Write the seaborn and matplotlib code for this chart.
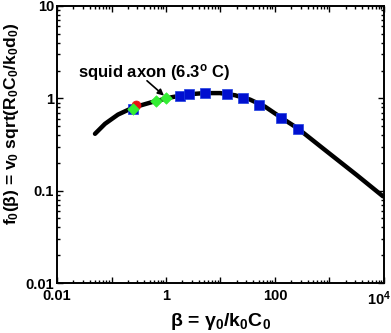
import matplotlib
matplotlib.use("Agg")
import matplotlib.pyplot as plt
import matplotlib.ticker as mticker
import matplotlib.transforms as mtransforms
import seaborn as sns
import numpy as np

# ---- data ----
beta_curve = [0.0498, 0.076, 0.1315, 0.248, 0.553, 1.29, 2.76, 5.2, 9.8,
              18.5, 34.8, 65.6, 134, 264, 760, 3200, 9600]
f_curve = [0.413, 0.530, 0.667, 0.794, 0.910, 1.03, 1.11, 1.14, 1.14,
           1.08, 0.97, 0.813, 0.611, 0.471, 0.287, 0.147, 0.0869]

beta_blue = [0.251, 1.81, 2.64, 5.2, 13.0, 26.2, 51.5, 131, 268]
f_blue = [0.769, 1.07, 1.115, 1.15, 1.115, 1.01, 0.855, 0.609, 0.468]

beta_red = [0.278]
f_red = [0.855]

beta_green = [0.251, 0.656, 0.986]
f_green = [0.769, 0.945, 1.01]

x_ticks = [0.01, 0.1, 1, 10, 100, 1000, 10000]
x_ticklabels = ["0.01", "", "1", "", "100", "", "$\\mathbf{10^4}$"]
y_ticks = [0.01, 0.1, 1, 10]
y_ticklabels = ["0.01", "0.1", "1", "10"]

annot_text = "squid axon (6.3$^{\\mathbf{o}}$ C)"
xlabel = "β = γ$_\\mathbf{0}$/k$_\\mathbf{0}$C$_\\mathbf{0}$"
ylabel = "f$_\\mathbf{0}$(β) = v$_\\mathbf{0}$ sqrt(R$_\\mathbf{0}$C$_\\mathbf{0}$/k$_\\mathbf{0}$d$_\\mathbf{0}$)"

# ---- style ----
sns.set_theme(style="ticks")
plt.rcParams["font.family"] = ["Liberation Sans", "DejaVu Sans"]
plt.rcParams["font.weight"] = "bold"
plt.rcParams["axes.labelweight"] = "bold"
plt.rcParams["mathtext.fontset"] = "custom"
plt.rcParams["mathtext.rm"] = "Liberation Sans:bold"
plt.rcParams["mathtext.it"] = "Liberation Sans:bold"
plt.rcParams["mathtext.bf"] = "Liberation Sans:bold"

fig = plt.figure(figsize=(3.91, 3.33), dpi=100)
ax = fig.add_axes([0.1458, 0.150, 0.982 - 0.1458, 0.982 - 0.150])

ax.set_xscale("log")
ax.set_yscale("log")

sns.lineplot(x=beta_curve, y=f_curve, ax=ax, color="black", linewidth=3.2,
             sort=False, estimator=None, solid_capstyle="round", zorder=2)
sns.scatterplot(x=beta_blue, y=f_blue, ax=ax, marker="s", s=46,
                color="#0010D0", edgecolor="#2040E0", linewidth=0.5, zorder=3)
sns.scatterplot(x=beta_red, y=f_red, ax=ax, marker="o", s=42,
                color="#E81010", edgecolor="#E81010", linewidth=0.5, zorder=4)
sns.scatterplot(x=beta_green, y=f_green, ax=ax, marker="D", s=34,
                color="#33EE33", edgecolor="#33EE33", linewidth=0.5, zorder=5)

ax.set_xlim(0.01, 10000)
ax.set_ylim(0.01, 10)

ax.xaxis.set_major_locator(mticker.FixedLocator(x_ticks))
ax.xaxis.set_major_formatter(mticker.FixedFormatter(x_ticklabels))
ax.xaxis.set_minor_locator(mticker.LogLocator(base=10, subs=np.arange(2, 10), numticks=20))
ax.xaxis.set_minor_formatter(mticker.NullFormatter())
ax.yaxis.set_major_locator(mticker.FixedLocator(y_ticks))
ax.yaxis.set_major_formatter(mticker.FixedFormatter(y_ticklabels))
ax.yaxis.set_minor_locator(mticker.LogLocator(base=10, subs=np.arange(2, 10), numticks=20))
ax.yaxis.set_minor_formatter(mticker.NullFormatter())

ax.tick_params(which="both", direction="in", top=True, right=True,
               color="black", width=1.0)
ax.tick_params(which="major", length=4.5, labelsize=10.5, pad=2)
ax.tick_params(which="minor", length=2.5)
ax.tick_params(axis="x", which="major", pad=4.5)
for lab in ax.get_xticklabels() + ax.get_yticklabels():
    lab.set_fontweight("bold")
    lab.set_color("black")

# nudge the last x tick label ("10^4") left so it stays inside the figure
last = ax.xaxis.get_major_ticks()[-1].label1
last.set_transform(last.get_transform() +
                   mtransforms.ScaledTranslation(-0.05, 0, fig.dpi_scale_trans))

for sp in ax.spines.values():
    sp.set_visible(True)
    sp.set_linewidth(1.4)
    sp.set_color("black")

ax.set_xlabel(xlabel, fontsize=14, fontweight="bold", labelpad=2, color="black")
ax.set_ylabel(ylabel, fontsize=12.5, fontweight="bold", color="black")
ax.yaxis.set_label_coords(-0.11, 0.575)

ax.text(0.6, 1.89, annot_text, fontsize=12, fontweight="bold",
        ha="center", va="center", color="black", zorder=6)
ax.annotate("", xy=(0.918, 1.07), xytext=(0.448, 1.55),
            arrowprops=dict(arrowstyle="-|>", color="black", lw=1.2,
                            mutation_scale=9, shrinkA=0, shrinkB=0), zorder=6)

fig.savefig("out.png", dpi=100)
